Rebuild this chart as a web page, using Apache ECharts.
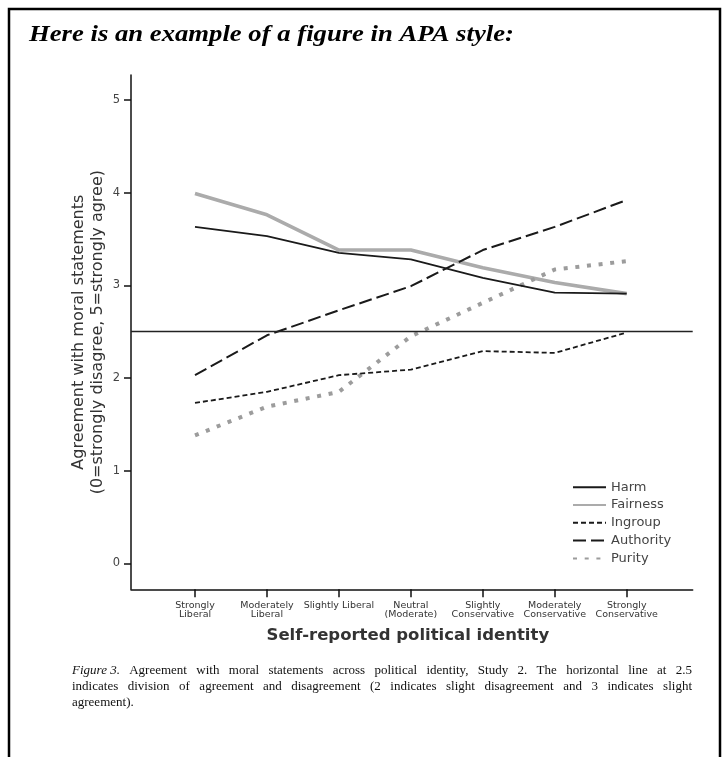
<!DOCTYPE html>
<html><head><meta charset="utf-8">
<script src="https://cdn.jsdelivr.net/npm/echarts@6/dist/echarts.min.js"></script>
<style>html,body{margin:0;padding:0;background:#fff;}#chart{width:728px;height:757px;}</style>
</head><body><div id="chart"></div>
<script>
// ---- data ----
const categories = ['Strongly\nLiberal', 'Moderately\nLiberal', 'Slightly Liberal', 'Neutral\n(Moderate)', 'Slightly\nConservative', 'Moderately\nConservative', 'Strongly\nConservative'];
const harm      = [3.63, 3.53, 3.35, 3.28, 3.08, 2.92, 2.91];
const fairness  = [3.99, 3.76, 3.38, 3.38, 3.19, 3.03, 2.91];
const ingroup   = [1.73, 1.85, 2.03, 2.09, 2.29, 2.27, 2.49];
const authority = [2.03, 2.46, 2.73, 2.99, 3.38, 3.63, 3.92];
const purity    = [1.38, 1.69, 1.85, 2.45, 2.81, 3.17, 3.26];
const yTicks = [0, 1, 2, 3, 4, 5];
const referenceValue = 2.5;
const titleText = 'Here is an example of a figure in APA style:';
const xAxisName = 'Self-reported political identity';
const yAxisName = 'Agreement with moral statements\n(0=strongly disagree, 5=strongly agree)';
const captionLabel = 'Figure 3.';
const captionLine1 = 'Agreement with moral statements across political identity, Study 2. The horizontal line at 2.5';
const captionLine2 = 'indicates division of agreement and disagreement (2 indicates slight disagreement and 3 indicates slight';
const captionLine3 = 'agreement).';

// ---- build ----
const xIdx = categories.map((c, i) => i);
const pts = arr => arr.map((v, i) => [i, v]);

const seriesDefs = [
  { name: 'Harm', data: harm, color: '#1a1a1a', width: 1.8, type: 'solid', z: 4 },
  { name: 'Fairness', data: fairness, color: '#ababab', width: 3.6, type: 'solid', z: 2 },
  { name: 'Ingroup', data: ingroup, color: '#1a1a1a', width: 1.8, type: [5, 3], z: 4 },
  { name: 'Authority', data: authority, color: '#1a1a1a', width: 2, type: [13, 5], z: 4 },
  { name: 'Purity', data: purity, color: '#9c9c9c', width: 4, type: [4, 7.7], z: 3 }
];

const series = seriesDefs.map((s, k) => ({
  name: s.name, type: 'line', data: pts(s.data), symbol: 'none', z: s.z,
  color: s.color,
  lineStyle: { color: s.color, width: s.width, type: s.type, cap: 'butt' },
  itemStyle: { color: s.color },
  emphasis: { disabled: true },
  markLine: k === 0 ? {
    silent: true, symbol: 'none', label: { show: false },
    lineStyle: { color: '#222', width: 1.4, type: 'solid' },
    data: [{ yAxis: referenceValue }]
  } : undefined
}));

// caption justification
const ctx = document.createElement('canvas').getContext('2d');
const capFont = '13px "Liberation Serif"';
const capFontItalic = 'italic 13px "Liberation Serif"';
function tw(t, f) { ctx.font = f; return ctx.measureText(t).width; }
const capX0 = 72, capX1 = 692;
const graphics = [];
function addWord(t, x, y, italic) {
  graphics.push({ type: 'text', x: x, y: y, silent: true,
    style: { text: t, fontFamily: 'Liberation Serif', fontSize: 13, fontStyle: italic ? 'italic' : 'normal',
      fill: '#111', textAlign: 'left', textVerticalAlign: 'middle' } });
}
function justify(words, italicFirst, y) {
  const fonts = words.map((w, i) => (italicFirst && i === 0) ? capFontItalic : capFont);
  const widths = words.map((w, i) => tw(w, fonts[i]));
  const total = widths.reduce((a, b) => a + b, 0);
  const gap = (capX1 - capX0 - total) / (words.length - 1);
  let x = capX0;
  words.forEach((w, i) => { addWord(w, x, y, italicFirst && i === 0); x += widths[i] + gap; });
}
justify([captionLabel].concat(captionLine1.split(' ')), true, 670.5);
justify(captionLine2.split(' '), false, 686.5);
addWord(captionLine3, capX0, 702.5, false);

graphics.push({ type: 'rect', silent: true, shape: { x: 9, y: 9, width: 711, height: 770 },
  style: { fill: 'none', stroke: '#000', lineWidth: 2.5 } });
graphics.push({ type: 'text', x: 29, y: 35, scaleX: 1.16, silent: true,
  style: { text: titleText, fontFamily: 'Liberation Serif', fontSize: 23, fontWeight: 'bold', fontStyle: 'italic',
    fill: '#000', textAlign: 'left', textVerticalAlign: 'middle' } });

const chart = echarts.init(document.getElementById('chart'), null, { renderer: 'canvas' });
chart.setOption({
  animation: false,
  backgroundColor: '#fff',
  grid: { left: 131, right: 35.3, top: 75, bottom: 167.7, containLabel: false },
  xAxis: {
    type: 'value', min: -0.8895, max: 6.917,
    axisLine: { show: true, onZero: false, lineStyle: { color: '#111', width: 1.5 } },
    axisTick: { show: true, length: 8, customValues: xIdx, lineStyle: { color: '#111', width: 1.5 } },
    axisLabel: { customValues: xIdx, formatter: v => categories[Math.round(v)], margin: 11,
      fontFamily: 'DejaVu Sans', fontSize: 9.5, lineHeight: 9.5, color: '#333', verticalAlign: 'top' },
    splitLine: { show: false },
    name: xAxisName, nameLocation: 'middle', nameGap: 38,
    nameTextStyle: { fontFamily: 'DejaVu Sans', fontWeight: 'bold', fontSize: 16.5, color: '#333', padding: [0, 8, 0, 0] }
  },
  yAxis: {
    type: 'value', min: -0.2806, max: 5.269,
    axisLine: { show: true, onZero: false, lineStyle: { color: '#111', width: 1.5 } },
    axisTick: { show: true, length: 7, customValues: yTicks, lineStyle: { color: '#111', width: 1.5 } },
    axisLabel: { customValues: yTicks, margin: 11, fontFamily: 'DejaVu Sans', fontSize: 11.5, color: '#444' },
    splitLine: { show: false },
    name: yAxisName, nameLocation: 'middle', nameGap: 24, nameMoveOverlap: false,
    nameTextStyle: { fontFamily: 'DejaVu Sans', fontSize: 16, color: '#333', lineHeight: 19 }
  },
  legend: {
    orient: 'vertical', left: 567, top: 475.7, itemWidth: 33, itemHeight: 12, itemGap: 4.8,
    data: seriesDefs.map(s => s.name),
    itemStyle: { opacity: 0 },
    textStyle: { fontFamily: 'DejaVu Sans', fontSize: 13, color: '#444' },
    selectedMode: false
  },
  series: series,
  graphic: graphics
});
</script>
</body></html>
